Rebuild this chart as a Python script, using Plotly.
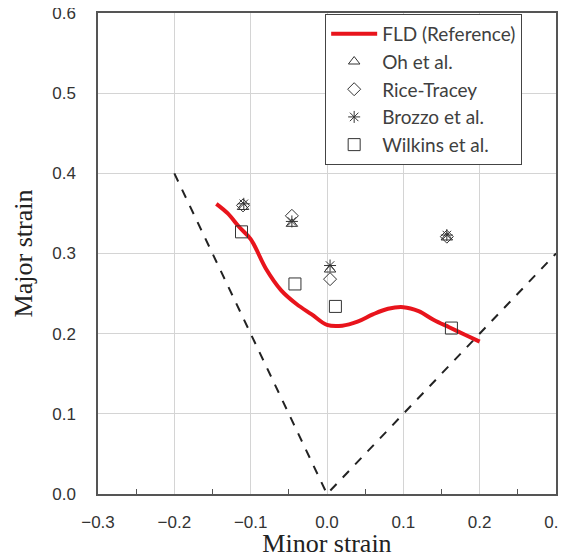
import plotly.graph_objects as go

# FLD reference curve
fld_x = [-0.145, -0.13, -0.115, -0.1, -0.08, -0.06, -0.04, -0.02, 0.0, 0.02, 0.04, 0.06, 0.08, 0.1, 0.12, 0.14, 0.16, 0.18, 0.2]
fld_y = [0.362, 0.35, 0.333, 0.318, 0.281, 0.254, 0.237, 0.224, 0.211, 0.210, 0.215, 0.224, 0.231, 0.233, 0.228, 0.217, 0.208, 0.199, 0.19]

# Model predictions
oh_x = [-0.11, -0.046, 0.004, 0.157]
oh_y = [0.358, 0.337, 0.280, 0.320]
rice_x = [-0.11, -0.046, 0.004, 0.157]
rice_y = [0.360, 0.347, 0.268, 0.321]
brozzo_x = [-0.109, -0.046, 0.004, 0.157]
brozzo_y = [0.362, 0.340, 0.285, 0.323]
wilkins_x = [-0.112, -0.042, 0.011, 0.163]
wilkins_y = [0.327, 0.262, 0.234, 0.207]

# Strain path reference lines
path_x = [-0.2, 0.0, 0.3]
path_y = [0.4, 0.0, 0.3]

fig = go.Figure()

fig.add_trace(go.Scatter(x=path_x, y=path_y, mode="lines",
                         line=dict(color="#222", width=2, dash="dash"),
                         showlegend=False, hoverinfo="skip"))
fig.add_trace(go.Scatter(x=fld_x, y=fld_y, mode="lines", name="FLD (Reference)",
                         line=dict(color="#e8141c", width=4, shape="spline"),
                         legendgroup="a"))
mk = dict(color="#333", size=10, line=dict(color="#333", width=1))
fig.add_trace(go.Scatter(x=oh_x, y=oh_y, mode="markers", name="Oh et al.",
                         marker=dict(symbol="triangle-up-open", **mk), legendgroup="b"))
fig.add_trace(go.Scatter(x=rice_x, y=rice_y, mode="markers", name="Rice-Tracey",
                         marker=dict(symbol="diamond-open", **mk), legendgroup="c"))
fig.add_trace(go.Scatter(x=brozzo_x, y=brozzo_y, mode="markers", name="Brozzo et al.",
                         marker=dict(symbol="asterisk-open", **mk), legendgroup="d"))
fig.add_trace(go.Scatter(x=wilkins_x, y=wilkins_y, mode="markers", name="Wilkins et al.",
                         marker=dict(symbol="square-open", color="#333", size=12,
                                     line=dict(color="#333", width=1)), legendgroup="e"))

fig.update_layout(
    width=558, height=550,
    margin=dict(l=90, r=10, t=5, b=64, autoexpand=False),
    paper_bgcolor="white", plot_bgcolor="white",
    legend=dict(x=0.496, y=0.998, xanchor="left", yanchor="top",
                bordercolor="#444", borderwidth=1, bgcolor="white",
                font=dict(family="Lato, Open Sans, sans-serif", size=19, color="#404040"),
                tracegroupgap=0, itemwidth=46),
)
fig.update_xaxes(range=[-0.3, 0.3], dtick=0.1, tickformat=".1f", automargin=False,
                 ticklabeloverflow="allow",
                 showgrid=True, gridcolor="#d4d4d4", gridwidth=1,
                 showline=True, linecolor="#555", linewidth=1.5, mirror=True,
                 zeroline=False, ticks="", ticklabelstandoff=12,
                 minor=dict(dtick=0.05, ticks="inside", ticklen=5, tickcolor="#555", showgrid=False),
                 tickfont=dict(family="Liberation Sans, Arial", size=17, color="#333"),
                 title=dict(text="Minor strain", standoff=2,
                            font=dict(family="Liberation Serif, Times New Roman", size=26, color="#222")))
fig.update_yaxes(range=[0, 0.6], dtick=0.1, tickformat=".1f", automargin=False,
                 ticklabeloverflow="allow",
                 showgrid=True, gridcolor="#d4d4d4", gridwidth=1,
                 showline=True, linecolor="#555", linewidth=1.5, mirror=True,
                 zeroline=False, ticks="", ticklabelstandoff=17,
                 tickfont=dict(family="Liberation Sans, Arial", size=17, color="#333"),
                 title=dict(text="Major strain", standoff=12,
                            font=dict(family="Liberation Serif, Times New Roman", size=26, color="#222")))

fig.write_html("out.html")
